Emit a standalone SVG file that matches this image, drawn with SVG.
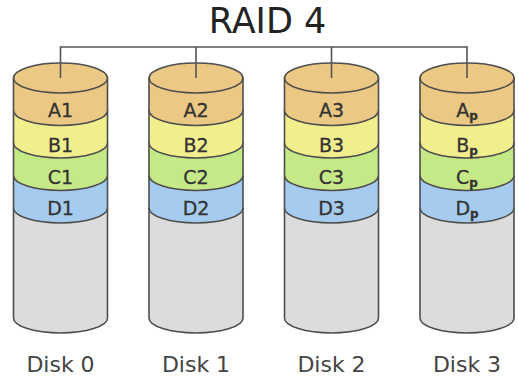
<svg xmlns="http://www.w3.org/2000/svg" width="518" height="378" viewBox="0 0 518 378">
<style>
.o{stroke:#4d4d4d;stroke-width:1.6;stroke-linejoin:round}
.g{fill:#dcdcdc}
.a{fill:#ebc883}
.b{fill:#f1ee8e}
.c{fill:#c6e987}
.d{fill:#a5cbef}
.t{font-family:"DejaVu Sans",Verdana,sans-serif;font-size:19px;fill:#333;stroke:#333;stroke-width:0.3;text-anchor:middle}
.s{font-size:12px;font-weight:bold}
.l{font-family:"DejaVu Sans",Verdana,sans-serif;font-size:22px;fill:#444;text-anchor:middle}
.h{font-family:"DejaVu Sans",Verdana,sans-serif;font-size:35px;fill:#222;text-anchor:middle}
.w{fill:none;stroke:#555;stroke-width:1.6}
</style>
<defs>
<g id="cyl">
<path class="o g" d="M-47,208 V318 A47,15 0 0 0 47,318 V208 Z"/>
<path class="o d" d="M-47,175.5 V208 A47,15 0 0 0 47,208 V175.5 Z"/>
<path class="o c" d="M-47,143 V175.5 A47,15 0 0 0 47,175.5 V143 Z"/>
<path class="o b" d="M-47,110.5 V143 A47,15 0 0 0 47,143 V110.5 Z"/>
<path class="o a" d="M-47,78 V110.5 A47,15 0 0 0 47,110.5 V78 Z"/>
<ellipse class="o a" cx="0" cy="78" rx="47" ry="15"/>
</g>
</defs>
<rect width="518" height="378" fill="#fff"/>
<text class="h" x="267.5" y="33">RAID 4</text>
<g id="disk0" transform="translate(60.5,0)">
<use href="#cyl"/>
<text class="t" x="0" y="117">A1</text>
<text class="t" x="0" y="152">B1</text>
<text class="t" x="0" y="183.5">C1</text>
<text class="t" x="0" y="215">D1</text>
<text class="l" x="0" y="372">Disk 0</text>
</g>
<g id="disk1" transform="translate(196,0)">
<use href="#cyl"/>
<text class="t" x="0" y="117">A2</text>
<text class="t" x="0" y="152">B2</text>
<text class="t" x="0" y="183.5">C2</text>
<text class="t" x="0" y="215">D2</text>
<text class="l" x="0" y="372">Disk 1</text>
</g>
<g id="disk2" transform="translate(331.5,0)">
<use href="#cyl"/>
<text class="t" x="0" y="117">A3</text>
<text class="t" x="0" y="152">B3</text>
<text class="t" x="0" y="183.5">C3</text>
<text class="t" x="0" y="215">D3</text>
<text class="l" x="0" y="372">Disk 2</text>
</g>
<g id="disk3" transform="translate(467,0)">
<use href="#cyl"/>
<text class="t" x="0" y="117">A<tspan class="s" dy="3">p</tspan></text>
<text class="t" x="0" y="152">B<tspan class="s" dy="3">p</tspan></text>
<text class="t" x="0" y="183.5">C<tspan class="s" dy="3">p</tspan></text>
<text class="t" x="0" y="215">D<tspan class="s" dy="3">p</tspan></text>
<text class="l" x="0" y="372">Disk 3</text>
</g>
<g id="connectors">
<path class="w" d="M60.5,78 V47 H467 V78 M196,47 V78 M331.5,47 V78"/>
</g>
</svg>
